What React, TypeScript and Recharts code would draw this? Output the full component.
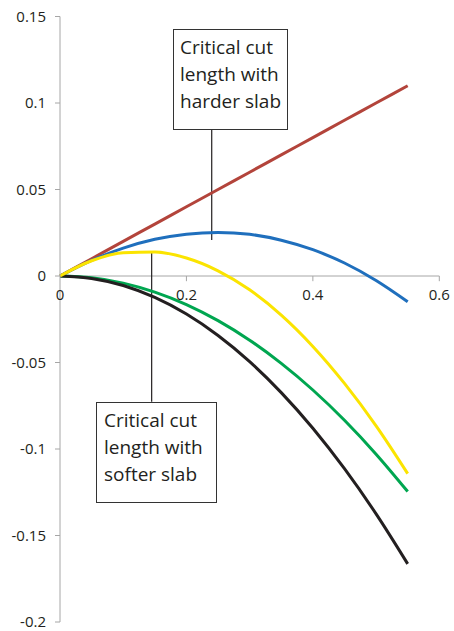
import React from 'react';
import {
  LineChart,
  Line,
  XAxis,
  YAxis,
  ReferenceLine,
  ReferenceDot,
} from 'recharts';

// cut length (x) and energy-like values (y)
const xValues = [0, 0.05, 0.1, 0.15, 0.2, 0.25, 0.3, 0.35, 0.4, 0.45, 0.5, 0.55];
const redSeries = [0, 0.01, 0.02, 0.03, 0.04, 0.05, 0.06, 0.07, 0.08, 0.09, 0.1, 0.11];
const blueSeries = [0, 0.009, 0.0161, 0.0212, 0.0242, 0.0252, 0.0241, 0.0207, 0.0152, 0.0075, -0.0026, -0.0149];
const yellowSeries = [0, 0.0088, 0.0134, 0.0139, 0.0104, 0.003, -0.008, -0.0226, -0.0407, -0.0621, -0.0866, -0.1142];
const greenSeries = [0, -0.001, -0.0041, -0.0093, -0.0165, -0.0258, -0.0371, -0.0505, -0.0659, -0.0834, -0.103, -0.1246];
const blackSeries = [0, -0.0014, -0.0055, -0.0124, -0.022, -0.0344, -0.0495, -0.0674, -0.088, -0.1114, -0.1375, -0.1664];

const xTicks = [0, 0.2, 0.4, 0.6];
const xTickLabels = ['0', '0.2', '0.4', '0.6'];
const yTicks = [-0.2, -0.15, -0.1, -0.05, 0, 0.05, 0.1, 0.15];

const data = xValues.map((x, i) => ({
  x,
  red: redSeries[i],
  blue: blueSeries[i],
  yellow: yellowSeries[i],
  green: greenSeries[i],
  black: blackSeries[i],
}));

const FONT = '"Open Sans", "Noto Sans", sans-serif';
const AXIS_GRAY = '#a6a6a6';

const boxStyle: React.CSSProperties = {
  position: 'absolute',
  boxSizing: 'border-box',
  background: '#fff',
  border: '1.5px solid #333',
  fontFamily: FONT,
  fontSize: 19,
  lineHeight: '27px',
  color: '#231f20',
  paddingLeft: 6,
  paddingTop: 4,
  whiteSpace: 'nowrap',
};

export default function App() {
  return (
    <div style={{ position: 'absolute', left: 0, top: 0, width: 454, height: 631, background: '#fff' }}>
      <LineChart
        width={454}
        height={631}
        data={data}
        margin={{ top: 16.5, right: 14.7, bottom: 9, left: 0 }}
        style={{ fontFamily: FONT }}
      >
        <XAxis type="number" dataKey="x" domain={[0, 0.6]} ticks={xTicks} hide />
        <YAxis
          type="number"
          domain={[-0.2, 0.15]}
          ticks={yTicks}
          width={60}
          stroke={AXIS_GRAY}
          tickSize={5}
          tickMargin={9}
          tick={{ fill: '#231f20', fontSize: 15 }}
        />
        <ReferenceLine y={0} stroke={AXIS_GRAY} strokeWidth={1} />
        {xTicks.slice(1).map((t) => (
          <ReferenceLine
            key={`tk-${t}`}
            segment={[{ x: t, y: 0 }, { x: t, y: -0.003 }]}
            stroke={AXIS_GRAY}
          />
        ))}
        {xTicks.map((t, i) => (
          <ReferenceDot
            key={`tl-${t}`}
            x={t}
            y={0}
            r={0}
            stroke="none"
            fill="none"
            label={{ value: xTickLabels[i], position: 'bottom', offset: 13, fill: '#231f20', fontSize: 15 }}
          />
        ))}
        {/* annotation pointers */}
        <ReferenceLine segment={[{ x: 0.24, y: 0.0844 }, { x: 0.24, y: 0.0208 }]} stroke="#231f20" strokeWidth={1.2} />
        <ReferenceLine segment={[{ x: 0.145, y: 0.014 }, { x: 0.145, y: -0.0727 }]} stroke="#231f20" strokeWidth={1.2} />

        <Line type="monotone" dataKey="red" stroke="#b3443b" strokeWidth={3} dot={false} isAnimationActive={false} />
        <Line type="monotone" dataKey="blue" stroke="#1f6fbd" strokeWidth={3} dot={false} isAnimationActive={false} />
        <Line type="monotone" dataKey="green" stroke="#00a650" strokeWidth={3} dot={false} isAnimationActive={false} />
        <Line type="monotone" dataKey="black" stroke="#231f20" strokeWidth={3} dot={false} isAnimationActive={false} />
        <Line type="monotone" dataKey="yellow" stroke="#fbe400" strokeWidth={3} dot={false} isAnimationActive={false} />
      </LineChart>

      <div style={{ ...boxStyle, left: 173, top: 29, width: 115, height: 101 }}>
        Critical cut
        <br />
        length with
        <br />
        harder slab
      </div>
      <div style={{ ...boxStyle, left: 96, top: 402, width: 121, height: 101, paddingLeft: 7 }}>
        Critical cut
        <br />
        length with
        <br />
        softer slab
      </div>
    </div>
  );
}
